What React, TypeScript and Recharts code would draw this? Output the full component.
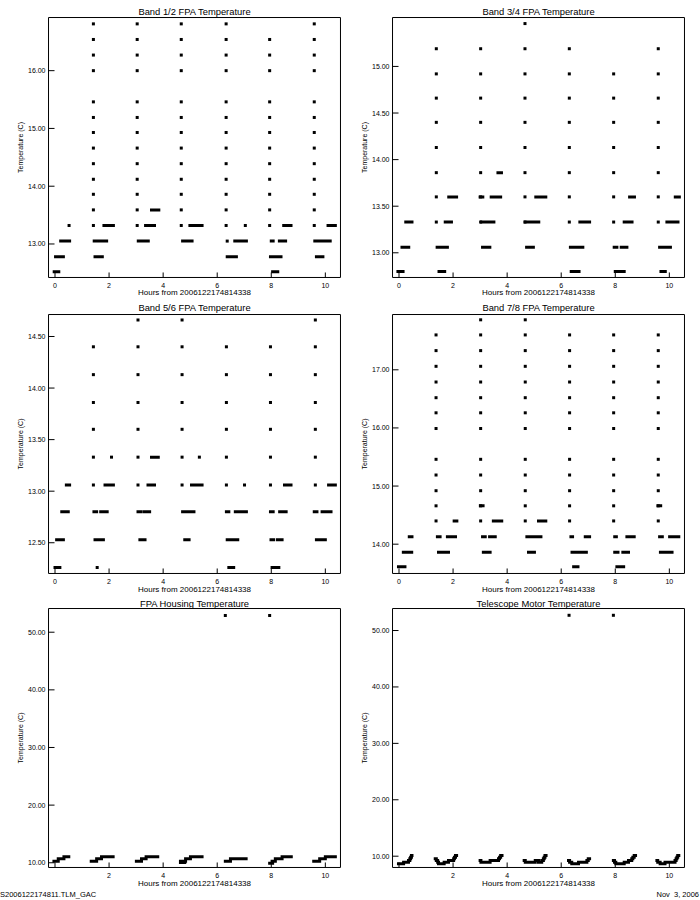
import React from 'react';
import { ComposedChart, Line, Scatter, XAxis, YAxis } from 'recharts';

const FONT = '"Liberation Sans", Arial, sans-serif';

// ---------- axis labels / text ----------
const xTitle = 'Hours from 2006122174814338';
const yTitle = 'Temperature (C)';
const titles = [
  'Band 1/2 FPA Temperature',
  'Band 3/4 FPA Temperature',
  'Band 5/6 FPA Temperature',
  'Band 7/8 FPA Temperature',
  'FPA Housing Temperature',
  'Telescope Motor Temperature',
];
const footLeft = 'S2006122174811.TLM_GAC';
const footRight = 'Nov  3, 2006';

const xMajorTicks = [0, 2, 4, 6, 8, 10];
const yTicks12 = [13, 14, 15, 16];
const yTicks34 = [13, 13.5, 14, 14.5, 15];
const yTicks56 = [12.5, 13, 13.5, 14, 14.5];
const yTicks78 = [14, 15, 16, 17];
const yTicksHousing = [10, 20, 30, 40, 50];
const yTicksMotor = [10, 20, 30, 40, 50];

// ---------- Band 1/2 ----------
const b12SpikeX = [1.42, 3.04, 4.67, 6.33, 7.94, 9.59];
const b12SpikeLevels = [
  [16.81, 16.54, 16.27, 16.0, 15.46, 15.19, 14.93, 14.66, 14.39, 14.12, 13.86, 13.59, 13.32],
  [16.81, 16.54, 16.27, 16.0, 15.46, 15.19, 14.93, 14.66, 14.39, 14.12, 13.86, 13.59, 13.32],
  [16.81, 16.54, 16.27, 16.0, 15.46, 15.19, 14.93, 14.66, 14.39, 14.12, 13.86, 13.59, 13.32],
  [16.81, 16.54, 16.27, 16.0, 15.46, 15.19, 14.93, 14.66, 14.39, 14.12, 13.86, 13.59, 13.32],
  [16.54, 16.27, 16.0, 15.46, 15.19, 14.93, 14.66, 14.39, 14.12, 13.86, 13.59, 13.32],
  [16.81, 16.54, 16.27, 16.0, 15.46, 15.19, 14.93, 14.66, 14.39, 14.12, 13.86, 13.59, 13.32],
];
const b12Singles = [[0.52, 13.32], [7.04, 13.32], [6.37, 13.05]];
const b12Dashes = [
  [-0.03, 0.14, 12.52], [8.05, 8.24, 12.52],
  [0.02, 0.31, 12.78], [1.48, 1.75, 12.78], [6.37, 6.71, 12.78], [7.97, 8.36, 12.78], [9.67, 9.91, 12.78],
  [0.21, 0.54, 13.05], [1.45, 1.56, 13.05], [1.65, 1.91, 13.05], [3.08, 3.45, 13.05], [4.72, 5.07, 13.05],
  [6.65, 7.08, 13.05], [8.0, 8.07, 13.05], [8.3, 8.53, 13.05], [9.61, 9.77, 13.05], [9.85, 10.18, 13.05],
  [1.81, 2.16, 13.32], [3.35, 3.68, 13.32], [4.99, 5.44, 13.32], [8.46, 8.73, 13.32], [10.1, 10.37, 13.32],
  [3.57, 3.84, 13.59],
];

// ---------- Band 3/4 ----------
const b34SpikeX = [1.38, 3.02, 4.66, 6.3, 7.94, 9.59];
const b34SpikeLevels = [
  [15.19, 14.92, 14.66, 14.4, 14.13, 13.86, 13.6, 13.33],
  [15.19, 14.92, 14.66, 14.4, 14.13, 13.86, 13.6, 13.33],
  [15.46, 15.19, 14.92, 14.66, 14.4, 14.13, 13.86, 13.6, 13.33],
  [15.19, 14.92, 14.66, 14.4, 14.13, 13.86, 13.6, 13.33],
  [14.92, 14.66, 14.4, 14.13, 13.86, 13.6, 13.33],
  [15.19, 14.92, 14.66, 14.4, 14.13, 13.86, 13.6, 13.33],
];
const b34Singles: number[][] = [];
const b34Dashes = [
  [-0.04, 0.15, 12.8], [1.48, 1.69, 12.8], [6.37, 6.66, 12.8], [8.0, 8.33, 12.8], [9.69, 9.85, 12.8],
  [0.11, 0.36, 13.06], [1.41, 1.53, 13.06], [1.59, 1.79, 13.06], [3.09, 3.36, 13.06], [4.72, 4.97, 13.06],
  [6.34, 6.48, 13.06], [6.55, 6.8, 13.06], [7.96, 8.06, 13.06], [8.22, 8.43, 13.06], [9.64, 10.04, 13.06],
  [0.25, 0.48, 13.33], [1.71, 1.94, 13.33], [3.05, 3.18, 13.33], [3.29, 3.51, 13.33], [4.67, 4.85, 13.33],
  [4.92, 5.17, 13.33], [6.69, 7.05, 13.33], [8.33, 8.62, 13.33], [9.91, 10.32, 13.33],
  [3.0, 3.1, 13.6], [1.84, 2.13, 13.6], [3.41, 3.76, 13.6], [5.06, 5.43, 13.6], [8.53, 8.71, 13.6], [10.22, 10.37, 13.6],
  [3.66, 3.79, 13.86],
];

// ---------- Band 5/6 ----------
const b56SpikeX = [1.42, 3.07, 4.7, 6.34, 7.97, 9.63];
const b56SpikeLevels = [
  [14.4, 14.13, 13.86, 13.6, 13.33, 13.06],
  [14.66, 14.4, 14.13, 13.86, 13.6, 13.33, 13.06],
  [14.66, 14.4, 14.13, 13.86, 13.6, 13.33, 13.06],
  [14.4, 14.13, 13.86, 13.6, 13.33, 13.06],
  [14.4, 14.13, 13.86, 13.6, 13.33, 13.06],
  [14.66, 14.4, 14.13, 13.86, 13.6, 13.33, 13.06],
];
const b56Singles = [[1.56, 12.26], [7.01, 13.06], [2.09, 13.33], [5.34, 13.33]];
const b56Dashes = [
  [0.0, 0.18, 12.26], [6.43, 6.61, 12.26], [8.03, 8.28, 12.26],
  [0.06, 0.31, 12.53], [1.48, 1.79, 12.53], [3.14, 3.33, 12.53], [4.8, 4.96, 12.53], [6.37, 6.76, 12.53],
  [7.99, 8.09, 12.53], [8.23, 8.4, 12.53], [9.67, 10.0, 12.53],
  [0.25, 0.49, 12.8], [1.44, 1.54, 12.8], [1.69, 1.93, 12.8], [3.07, 3.17, 12.8], [3.29, 3.5, 12.8],
  [4.72, 5.14, 12.8], [6.34, 6.43, 12.8], [6.67, 7.08, 12.8], [7.97, 8.07, 12.8], [8.31, 8.55, 12.8],
  [9.59, 9.69, 12.8], [9.88, 10.21, 12.8],
  [0.42, 0.54, 13.06], [1.85, 2.16, 13.06], [3.44, 3.68, 13.06], [5.05, 5.44, 13.06], [8.49, 8.73, 13.06], [10.12, 10.37, 13.06],
  [3.57, 3.82, 13.33],
];

// ---------- Band 7/8 ----------
const b78SpikeX = [1.37, 3.02, 4.67, 6.31, 7.94, 9.59];
const b78SpikeLevels = [
  [17.6, 17.33, 17.06, 16.79, 16.52, 16.26, 15.99, 15.46, 15.19, 14.92, 14.66, 14.4],
  [17.86, 17.6, 17.33, 17.06, 16.79, 16.52, 16.26, 15.99, 15.46, 15.19, 14.92, 14.66, 14.4],
  [17.86, 17.6, 17.33, 17.06, 16.79, 16.52, 16.26, 15.99, 15.46, 15.19, 14.92, 14.66, 14.4],
  [17.6, 17.33, 17.06, 16.79, 16.52, 16.26, 15.99, 15.46, 15.19, 14.92, 14.66, 14.4],
  [17.6, 17.33, 17.06, 16.79, 16.52, 16.26, 15.99, 15.46, 15.19, 14.92, 14.66, 14.4],
  [17.6, 17.33, 17.06, 16.79, 16.52, 16.26, 15.99, 15.46, 15.19, 14.92, 14.66, 14.4],
];
const b78Singles: number[][] = [];
const b78Dashes = [
  [-0.02, 0.22, 13.61], [6.46, 6.62, 13.61], [8.06, 8.31, 13.61],
  [0.16, 0.47, 13.86], [1.46, 1.83, 13.86], [3.12, 3.37, 13.86], [4.79, 5.01, 13.86], [6.4, 6.93, 13.86],
  [7.98, 8.1, 13.86], [8.28, 8.49, 13.86], [9.67, 10.1, 13.86],
  [0.38, 0.48, 14.13], [1.42, 1.52, 14.13], [1.79, 2.09, 14.13], [3.09, 3.19, 14.13], [3.35, 3.56, 14.13],
  [4.73, 4.88, 14.13], [4.95, 5.25, 14.13], [6.36, 6.42, 14.13], [6.89, 7.05, 14.13], [7.98, 8.04, 14.13],
  [8.43, 8.7, 14.13], [9.64, 9.74, 14.13], [10.01, 10.35, 14.13],
  [2.04, 2.14, 14.4], [3.49, 3.8, 14.4], [5.16, 5.43, 14.4],
  [3.01, 3.11, 14.66], [9.58, 9.68, 14.66],
];

// ---------- FPA Housing ----------
const housingSingles = [[6.3, 52.9], [7.94, 52.9]];
const housingDashes = [
  [-0.04, 0.12, 10.28], [0.12, 0.33, 10.68], [0.33, 0.51, 11.06],
  [1.34, 1.54, 10.28], [1.54, 1.72, 10.68], [1.72, 2.15, 11.06],
  [3.01, 3.2, 10.28], [3.2, 3.37, 10.68], [3.37, 3.8, 11.06],
  [4.64, 4.8, 10.05], [4.64, 4.83, 10.28], [4.83, 5.01, 10.68], [5.01, 5.44, 11.06],
  [6.3, 6.49, 10.28], [6.49, 7.07, 10.68],
  [7.94, 8.05, 9.9], [8.03, 8.15, 10.28], [8.15, 8.4, 10.68], [8.4, 8.74, 11.06],
  [9.57, 9.79, 10.28], [9.79, 10.0, 10.68], [10.0, 10.37, 11.06],
];

// ---------- Telescope Motor ----------
const motorSingles = [[6.29, 52.7], [7.93, 52.7]];
const motorDashes = [
  [-0.02, 0.17, 8.65], [0.17, 0.35, 8.94], [0.35, 0.4, 9.24], [0.4, 0.43, 9.53], [0.43, 0.46, 9.83], [0.46, 0.48, 10.12],
  [1.34, 1.38, 9.53], [1.38, 1.43, 9.24], [1.43, 1.46, 8.94], [1.46, 1.67, 8.65], [1.67, 1.83, 8.94],
  [1.83, 2.02, 9.24], [2.02, 2.05, 9.53], [2.05, 2.09, 9.83], [2.09, 2.13, 10.12],
  [3.0, 3.03, 9.24], [3.03, 3.37, 8.94], [3.37, 3.68, 9.24], [3.68, 3.72, 9.53], [3.72, 3.76, 9.83], [3.76, 3.81, 10.12],
  [4.63, 4.67, 9.24], [4.67, 5.04, 8.94], [5.04, 5.16, 9.24], [5.16, 5.28, 8.94], [5.28, 5.34, 9.24],
  [5.34, 5.37, 9.53], [5.37, 5.4, 9.83], [5.4, 5.44, 10.12],
  [6.27, 6.31, 9.24], [6.31, 6.39, 8.94], [6.39, 6.64, 8.65], [6.64, 6.95, 8.94], [6.95, 7.0, 9.24], [7.0, 7.05, 9.53],
  [7.93, 7.97, 9.24], [7.97, 8.02, 8.94], [8.02, 8.33, 8.65], [8.33, 8.49, 8.94], [8.49, 8.61, 9.24],
  [8.61, 8.65, 9.53], [8.65, 8.7, 9.83], [8.7, 8.75, 10.12],
  [9.54, 9.57, 9.24], [9.57, 9.66, 8.94], [9.66, 9.84, 8.65], [9.84, 10.21, 8.94], [10.21, 10.25, 9.24],
  [10.25, 10.28, 9.53], [10.28, 10.31, 9.83], [10.31, 10.35, 10.12],
];

// ---------- helpers ----------
const X_DOMAIN: [number, number] = [-0.24, 10.56];
const THIN = 0.01; // axis thickness (must be > 0 for recharts to draw the axis)

function steps(a: number, b: number, s: number) {
  const out: number[] = [];
  for (let i = Math.ceil(a / s - 1e-9); i * s <= b + 1e-9; i++) out.push(+(i * s).toFixed(4));
  return out;
}

function buildPoints(spikeX: number[], levels: number[][], singles: number[][]) {
  const out: { x: number; y: number }[] = [];
  spikeX.forEach((x, i) => levels[i].forEach((y) => out.push({ x, y })));
  singles.forEach(([x, y]) => out.push({ x, y }));
  return out;
}

function buildDashes(dashes: number[][]) {
  const out: { x: number; y: number | null }[] = [];
  dashes.forEach(([x1, x2, y]) => {
    out.push({ x: x1, y }, { x: x2, y }, { x: x2, y: null });
  });
  return out;
}

const Sq = (props: any) => {
  const { cx, cy } = props;
  if (cx == null || cy == null || isNaN(cx) || isNaN(cy)) return <g />;
  return <rect x={cx - 1.5} y={cy - 1.5} width={3} height={3} fill="#000" />;
};

const tickStyle = { fontSize: 7, fill: '#000', fontFamily: FONT };

type PanelProps = {
  left: number;
  top: number;
  width: number;
  height: number;
  margin: { top: number; right: number; bottom: number; left: number };
  yDomain: [number, number];
  yTicks: number[];
  yMinorStep: number;
  skipZero: boolean;
  points: { x: number; y: number }[];
  dashes: { x: number; y: number | null }[];
};

function Panel(p: PanelProps) {
  const xMinor = steps(X_DOMAIN[0], X_DOMAIN[1], 0.5);
  const yMinor = steps(p.yDomain[0], p.yDomain[1], p.yMinorStep);
  const common = { type: 'number' as const, allowDataOverflow: true, interval: 0 as const, stroke: '#000' };
  return (
    <div style={{ position: 'absolute', left: p.left, top: p.top, width: p.width, height: p.height }}>
      <ComposedChart width={p.width} height={p.height} margin={p.margin}>
        <XAxis
          {...common}
          xAxisId="b"
          dataKey="x"
          orientation="bottom"
          domain={X_DOMAIN}
          ticks={xMajorTicks}
          height={THIN}
          tickSize={-5}
          tickMargin={10.5}
          tick={tickStyle}
          tickFormatter={(v: number) => (p.skipZero && v === 0 ? '' : String(v))}
        />
        <XAxis {...common} xAxisId="bm" dataKey="x" orientation="bottom" domain={X_DOMAIN} ticks={xMinor}
          height={THIN} tickSize={-2.5} tick={false} axisLine={false} />
        <XAxis {...common} xAxisId="t" dataKey="x" orientation="top" domain={X_DOMAIN} ticks={xMajorTicks}
          height={THIN} tickSize={-5} tick={false} />
        <XAxis {...common} xAxisId="tm" dataKey="x" orientation="top" domain={X_DOMAIN} ticks={xMinor}
          height={THIN} tickSize={-2.5} tick={false} axisLine={false} />
        <YAxis
          {...common}
          yAxisId="l"
          dataKey="y"
          orientation="left"
          domain={p.yDomain}
          ticks={p.yTicks}
          width={THIN}
          tickSize={-6}
          tickMargin={9}
          tick={tickStyle}
          tickFormatter={(v: number) => v.toFixed(2)}
        />
        <YAxis {...common} yAxisId="lm" dataKey="y" orientation="left" domain={p.yDomain} ticks={yMinor}
          width={THIN} tickSize={-3} tick={false} axisLine={false} />
        <YAxis {...common} yAxisId="r" dataKey="y" orientation="right" domain={p.yDomain} ticks={p.yTicks}
          width={THIN} tickSize={-6} tick={false} />
        <YAxis {...common} yAxisId="rm" dataKey="y" orientation="right" domain={p.yDomain} ticks={yMinor}
          width={THIN} tickSize={-3} tick={false} axisLine={false} />
        <Line
          xAxisId="b"
          yAxisId="l"
          data={p.dashes}
          dataKey="y"
          type="linear"
          stroke="#000"
          strokeWidth={3}
          strokeLinecap="square"
          dot={false}
          activeDot={false}
          connectNulls={false}
          isAnimationActive={false}
        />
        <Scatter xAxisId="b" yAxisId="l" data={p.points} dataKey="y" shape={Sq} isAnimationActive={false} />
      </ComposedChart>
    </div>
  );
}

export default function App() {
  const leftCol = { left: 0, width: 350, mL: 48.5, mR: 9.5, cx: 194.5 };
  const rightCol = { left: 350, width: 350, mL: 42.5, mR: 15.5, cx: 538.5 };
  const rows = [
    { top: 0, height: 300, mT: 17.5, mB: 22.5, title: 11, xt: 292.5, mid: 147.5 },
    { top: 300, height: 300, mT: 14.5, mB: 26.5, title: 307, xt: 589, mid: 444 },
    { top: 590, height: 310, mT: 18.5, mB: 32.5, title: 603, xt: 883.5, mid: 738 },
  ];

  const panels = [
    { col: leftCol, row: rows[0], yDomain: [12.42, 16.92] as [number, number], yTicks: yTicks12, step: 0.1, skipZero: false,
      points: buildPoints(b12SpikeX, b12SpikeLevels, b12Singles), dashes: buildDashes(b12Dashes) },
    { col: rightCol, row: rows[0], yDomain: [12.735, 15.525] as [number, number], yTicks: yTicks34, step: 0.1, skipZero: false,
      points: buildPoints(b34SpikeX, b34SpikeLevels, b34Singles), dashes: buildDashes(b34Dashes) },
    { col: leftCol, row: rows[1], yDomain: [12.202, 14.713] as [number, number], yTicks: yTicks56, step: 0.1, skipZero: false,
      points: buildPoints(b56SpikeX, b56SpikeLevels, b56Singles), dashes: buildDashes(b56Dashes) },
    { col: rightCol, row: rows[1], yDomain: [13.496, 17.951] as [number, number], yTicks: yTicks78, step: 0.1, skipZero: false,
      points: buildPoints(b78SpikeX, b78SpikeLevels, b78Singles), dashes: buildDashes(b78Dashes) },
    { col: leftCol, row: rows[2], yDomain: [9.18, 54.11] as [number, number], yTicks: yTicksHousing, step: 2, skipZero: true,
      points: buildPoints([], [], housingSingles), dashes: buildDashes(housingDashes) },
    { col: rightCol, row: rows[2], yDomain: [8.0, 53.9] as [number, number], yTicks: yTicksMotor, step: 2, skipZero: true,
      points: buildPoints([], [], motorSingles), dashes: buildDashes(motorDashes) },
  ];

  return (
    <div style={{ position: 'absolute', left: 0, top: 0, width: 700, height: 900, background: '#fff', overflow: 'hidden' }}>
      {panels.map((pn, i) => (
        <Panel
          key={i}
          left={pn.col.left}
          top={pn.row.top}
          width={pn.col.width}
          height={pn.row.height}
          margin={{ top: pn.row.mT, bottom: pn.row.mB, left: pn.col.mL, right: pn.col.mR }}
          yDomain={pn.yDomain}
          yTicks={pn.yTicks}
          yMinorStep={pn.step}
          skipZero={pn.skipZero}
          points={pn.points}
          dashes={pn.dashes}
        />
      ))}
      <svg width={700} height={900} style={{ position: 'absolute', left: 0, top: 0, pointerEvents: 'none' }}
        fontFamily={FONT} fill="#000">
        {panels.map((pn, i) => {
          const yx = pn.col === leftCol ? 20 : 364;
          return (
            <g key={i}>
              <text x={pn.col.cx} y={pn.row.title} fontSize={9.4} textAnchor="middle" dominantBaseline="central">
                {titles[i]}
              </text>
              <text x={pn.col.cx} y={pn.row.xt} fontSize={8} textAnchor="middle" dominantBaseline="central">
                {xTitle}
              </text>
              <text x={yx} y={pn.row.mid} fontSize={7} textAnchor="middle" dominantBaseline="central"
                transform={`rotate(-90 ${yx} ${pn.row.mid})`}>
                {yTitle}
              </text>
            </g>
          );
        })}
        <text x={0} y={894} fontSize={7.5} dominantBaseline="central">{footLeft}</text>
        <text x={699} y={894} fontSize={7.5} textAnchor="end" dominantBaseline="central" xmlSpace="preserve">{footRight}</text>
      </svg>
    </div>
  );
}
